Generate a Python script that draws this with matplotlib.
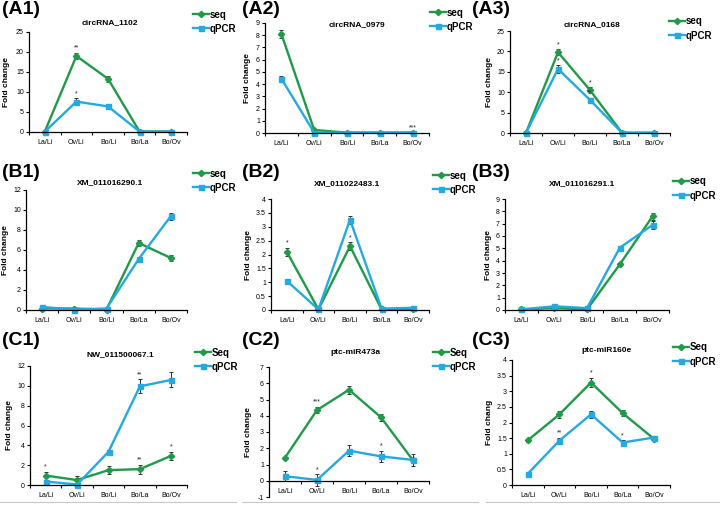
import numpy as np
import matplotlib
matplotlib.use('Agg')
from matplotlib import pyplot as plt
from matplotlib.lines import Line2D

plt.rcParams['font.family'] = ['Liberation Sans', 'DejaVu Sans']

W, H = 720, 508
SEQ_C = '#1F9B48'
QPCR_C = '#25A9E1'

categories = ['La/Li', 'Ov/Li', 'Bo/Li', 'Bo/La', 'Bo/Ov']

# A1 circRNA_1102
a1_seq = [0.1, 19.0, 13.3, 0.1, 0.1]
a1_seq_err = [0.0, 0.8, 0.7, 0.0, 0.0]
a1_qpcr = [0.1, 7.6, 6.4, 0.1, 0.1]
a1_qpcr_err = [0.0, 0.8, 0.5, 0.0, 0.0]
a1_seq_stars = ['', '**', '', '', '']
a1_qpcr_stars = ['', '*', '', '', '']

# A2 circRNA_0979
a2_seq = [8.1, 0.25, 0.03, 0.03, 0.03]
a2_seq_err = [0.35, 0.0, 0.0, 0.0, 0.0]
a2_qpcr = [4.45, 0.03, 0.03, 0.03, 0.03]
a2_qpcr_err = [0.2, 0.0, 0.0, 0.0, 0.0]
a2_seq_stars = ['', '', '', '', '']
a2_qpcr_stars = ['', '', '', '', '***']

# A3 circRNA_0168
a3_seq = [0.05, 19.8, 10.5, 0.05, 0.05]
a3_seq_err = [0.0, 0.8, 0.7, 0.0, 0.0]
a3_qpcr = [0.05, 15.7, 8.1, 0.05, 0.05]
a3_qpcr_err = [0.0, 0.9, 0.6, 0.0, 0.0]
a3_seq_stars = ['', '*', '*', '', '']
a3_qpcr_stars = ['', '*', '**', '', '']

# B1 XM_011016290.1
b1_seq = [0.15, 0.15, 0.05, 6.7, 5.2]
b1_seq_err = [0.0, 0.0, 0.0, 0.3, 0.3]
b1_qpcr = [0.3, 0.05, 0.15, 5.1, 9.4]
b1_qpcr_err = [0.05, 0.0, 0.0, 0.2, 0.35]
b1_seq_stars = ['', '', '', '', '']
b1_qpcr_stars = ['', '', '', '', '']

# B2 XM_011022483.1
b2_seq = [2.1, 0.02, 2.3, 0.02, 0.02]
b2_seq_err = [0.15, 0.0, 0.15, 0.0, 0.0]
b2_qpcr = [1.05, 0.02, 3.25, 0.05, 0.08]
b2_qpcr_err = [0.05, 0.0, 0.15, 0.0, 0.03]
b2_seq_stars = ['*', '', '*', '', '']
b2_qpcr_stars = ['', '', '', '', '']

# B3 XM_011016291.1
b3_seq = [0.05, 0.15, 0.05, 3.7, 7.6]
b3_seq_err = [0.0, 0.0, 0.0, 0.15, 0.3]
b3_qpcr = [0.05, 0.3, 0.15, 5.05, 6.9]
b3_qpcr_err = [0.0, 0.0, 0.0, 0.15, 0.3]
b3_seq_stars = ['', '', '', '', '']
b3_qpcr_stars = ['', '', '', '', '']

# C1 NW_011500067.1
c1_seq = [0.95, 0.5, 1.5, 1.6, 2.95]
c1_seq_err = [0.4, 0.4, 0.4, 0.45, 0.4]
c1_qpcr = [0.35, 0.05, 3.35, 9.95, 10.6]
c1_qpcr_err = [0.1, 0.1, 0.2, 0.7, 0.75]
c1_seq_stars = ['*', '', '', '**', '*']
c1_qpcr_stars = ['', '', '', '**', '']

# C2 ptc-miR473a
c2_seq = [1.42, 4.35, 5.6, 3.9, 1.25]
c2_seq_err = [0.05, 0.2, 0.25, 0.2, 0.1]
c2_qpcr = [0.28, 0.05, 1.85, 1.5, 1.28]
c2_qpcr_err = [0.3, 0.35, 0.35, 0.35, 0.35]
c2_seq_stars = ['', '***', '', '', '']
c2_qpcr_stars = ['', '*', '', '*', '']

# C3 ptc-miR160e
c3_seq = [1.43, 2.26, 3.28, 2.3, 1.47]
c3_seq_err = [0.05, 0.1, 0.15, 0.1, 0.05]
c3_qpcr = [0.36, 1.42, 2.26, 1.36, 1.52]
c3_qpcr_err = [0.03, 0.08, 0.12, 0.07, 0.06]
c3_seq_stars = ['', '', '*', '', '']
c3_qpcr_stars = ['', '**', '', '*', '']


def draw_panel(fig, box, label, label_xy, title, title_xy, seq, seq_err, qpcr, qpcr_err,
               seq_stars, qpcr_stars, ylim, ystep, ylabel_x, legend_xy, seq_name='seq',
               ylabel='Fold change'):
    l, t, r, b = box
    ax = fig.add_axes([l / W, 1 - b / H, (r - l) / W, (b - t) / H])
    if ylim[0] < 0:
        ax.spines['bottom'].set_position(('data', 0))
    x = np.arange(len(categories))
    span = ylim[1] - ylim[0]
    for vals, errs, stars, col, mk, ms, name in [
            (seq, seq_err, seq_stars, SEQ_C, 'D', 3.2, seq_name),
            (qpcr, qpcr_err, qpcr_stars, QPCR_C, 's', 3.6, 'qPCR')]:
        ax.errorbar(x, vals, yerr=errs, fmt='none', ecolor='#333333', elinewidth=0.7,
                    capsize=1.5, capthick=0.7, clip_on=False)
        ax.plot(x, vals, color=col, marker=mk, ms=ms, lw=1.7, label=name, clip_on=False)
        for xi, v, e, s in zip(x, vals, errs, stars):
            if s:
                ax.text(xi, v + e + span * 0.01, s, ha='center', va='bottom',
                        fontsize=5, color='#222222')
    ax.set_xlim(-0.5, 4.5)
    ax.set_ylim(*ylim)
    yt = np.arange(ylim[0], ylim[1] + ystep / 2, ystep)
    ax.set_yticks(yt)
    ax.set_yticklabels([('%g' % v) for v in yt], fontsize=5)
    ax.set_xticks(x)
    ax.set_xticklabels(categories, fontsize=5)
    ax.set_xticks(np.arange(-0.5, 4.6, 1), minor=True)
    ax.tick_params(axis='x', which='major', length=0, pad=5)
    ax.tick_params(axis='x', which='minor', length=2.2, width=0.8, direction='out')
    ax.tick_params(axis='y', length=2.2, width=0.8, pad=1.5)
    for s in ['top', 'right']:
        ax.spines[s].set_visible(False)
    for s in ['left', 'bottom']:
        ax.spines[s].set_linewidth(0.9)
    ax.set_ylabel(ylabel, fontsize=6, fontweight='bold')
    ax.yaxis.set_label_coords((ylabel_x - l) / (r - l), 0.5)
    ax.patch.set_visible(False)

    fig.text(label_xy[0] / W, 1 - label_xy[1] / H, label, fontsize=14,
             fontweight='bold', ha='left', va='top')
    fig.text(title_xy[0] / W, 1 - title_xy[1] / H, title, fontsize=6,
             fontweight='bold', ha='center', va='center')
    ax.legend(loc='upper left', bbox_to_anchor=(legend_xy[0] / W, 1 - (legend_xy[1] - 5.5) / H),
              bbox_transform=fig.transFigure, frameon=False, handlelength=1.6,
              handletextpad=0.15, borderpad=0, borderaxespad=0, labelspacing=0.45,
              prop={'weight': 'bold', 'size': 7})
    return ax


fig = plt.figure(figsize=(7.2, 5.08), dpi=100)

draw_panel(fig, (29, 32, 187, 132), '(A1)', (2, 1), 'circRNA_1102', (110, 23),
           a1_seq, a1_seq_err, a1_qpcr, a1_qpcr_err, a1_seq_stars, a1_qpcr_stars,
           (0, 25), 5, 10, (193, 15))
draw_panel(fig, (265, 23, 429, 133), '(A2)', (242, 1), 'circRNA_0979', (357, 25),
           a2_seq, a2_seq_err, a2_qpcr, a2_qpcr_err, a2_seq_stars, a2_qpcr_stars,
           (0, 9), 1, 251, (430, 13))
draw_panel(fig, (510, 31, 670, 133), '(A3)', (472, 1), 'circRNA_0168', (592, 25),
           a3_seq, a3_seq_err, a3_qpcr, a3_qpcr_err, a3_seq_stars, a3_qpcr_stars,
           (0, 25), 5, 493, (669, 22))

draw_panel(fig, (26, 190, 187, 310), '(B1)', (2, 164), 'XM_011016290.1', (110, 183),
           b1_seq, b1_seq_err, b1_qpcr, b1_qpcr_err, b1_seq_stars, b1_qpcr_stars,
           (0, 12), 2, 9, (193, 174))
draw_panel(fig, (271, 199, 429, 310), '(B2)', (242, 164), 'XM_011022483.1', (347, 184),
           b2_seq, b2_seq_err, b2_qpcr, b2_qpcr_err, b2_seq_stars, b2_qpcr_stars,
           (0, 4), 0.5, 252, (433, 176))
draw_panel(fig, (505, 199, 669, 310), '(B3)', (472, 164), 'XM_011016291.1', (582, 184),
           b3_seq, b3_seq_err, b3_qpcr, b3_qpcr_err, b3_seq_stars, b3_qpcr_stars,
           (0, 9), 1, 492, (673, 182))

draw_panel(fig, (30, 366, 187, 485), '(C1)', (2, 332), 'NW_011500067.1', (120, 355),
           c1_seq, c1_seq_err, c1_qpcr, c1_qpcr_err, c1_seq_stars, c1_qpcr_stars,
           (0, 12), 2, 13, (195, 353), seq_name='Seq')
draw_panel(fig, (269, 367, 429, 497), '(C2)', (242, 332), 'ptc-miR473a', (355, 353),
           c2_seq, c2_seq_err, c2_qpcr, c2_qpcr_err, c2_seq_stars, c2_qpcr_stars,
           (-1, 7), 1, 252, (433, 353), seq_name='Seq')
draw_panel(fig, (512, 360, 670, 485), '(C3)', (472, 332), 'ptc-miR160e', (607, 351),
           c3_seq, c3_seq_err, c3_qpcr, c3_qpcr_err, c3_seq_stars, c3_qpcr_stars,
           (0, 4), 0.5, 493, (673, 348), seq_name='Seq', ylabel='Fold chang')

# faint separators under the bottom row
for x0, x1 in [(0, 236), (242, 478), (486, 720)]:
    fig.add_artist(Line2D([x0 / W, x1 / W], [1 - 502 / H] * 2, color='#C8C8C8', lw=0.8))

fig.savefig('out.png', dpi=100)
